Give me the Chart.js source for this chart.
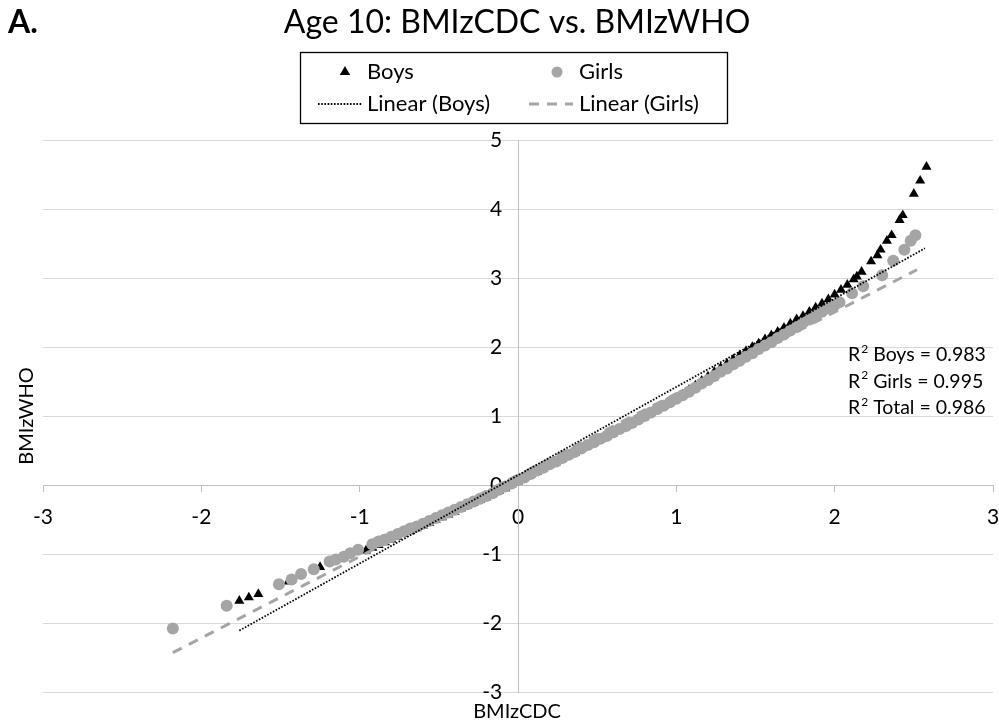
<!DOCTYPE html>
<html>
<head>
<meta charset="utf-8">
<script src="https://cdn.jsdelivr.net/npm/chart.js@4/dist/chart.umd.min.js"></script>
<style>
  html, body { margin: 0; padding: 0; background: #fff; }
  #wrap { width: 999px; height: 725px; position: relative; }
</style>
</head>
<body>
<div id="wrap"><canvas id="myChart"></canvas></div>
<script>
// values (BMIz CDC on x, BMIz WHO on y)
const girlsX = [-2.18, -1.84, -1.51, -1.43, -1.37, -1.29, -1.19, -1.15, -1.10, -1.06, -1.01,
  -0.92, -0.88, -0.84, -0.80, -0.76, -0.72, -0.68, -0.64, -0.60, -0.56, -0.52, -0.48, -0.44,
  -0.40, -0.36, -0.32, -0.28, -0.24, -0.20, -0.16, -0.12, -0.08, -0.04, 0.00, 0.04, 0.08,
  0.12, 0.16, 0.20, 0.24, 0.28, 0.32, 0.36, 0.40, 0.44, 0.48, 0.52, 0.56, 0.60, 0.64, 0.68,
  0.72, 0.76, 0.80, 0.84, 0.88, 0.92, 0.96, 1.00, 1.04, 1.08, 1.12, 1.16, 1.20, 1.24, 1.28,
  1.32, 1.36, 1.40, 1.44, 1.48, 1.52, 1.56, 1.60, 1.64, 1.68, 1.72, 1.76, 1.80, 1.84, 1.88,
  1.92, 1.96, 2.00, 2.03, 2.11, 2.18, 2.30, 2.37, 2.44, 2.48, 2.51];
const girlsY = [-2.08, -1.75, -1.44, -1.37, -1.29, -1.22, -1.11, -1.08, -1.04, -0.99, -0.94,
  -0.86, -0.82, -0.79, -0.75, -0.71, -0.67, -0.63, -0.60, -0.56, -0.52, -0.48, -0.44, -0.40,
  -0.36, -0.32, -0.28, -0.24, -0.20, -0.16, -0.12, -0.07, -0.02, 0.02, 0.07, 0.11, 0.16,
  0.21, 0.25, 0.30, 0.34, 0.39, 0.44, 0.48, 0.53, 0.58, 0.62, 0.67, 0.71, 0.76, 0.81, 0.85,
  0.90, 0.95, 1.00, 1.05, 1.10, 1.15, 1.20, 1.25, 1.30, 1.35, 1.41, 1.47, 1.52, 1.58, 1.64,
  1.69, 1.75, 1.80, 1.86, 1.91, 1.97, 2.02, 2.07, 2.13, 2.18, 2.24, 2.29, 2.35, 2.40, 2.46,
  2.51, 2.56, 2.61, 2.65, 2.78, 2.88, 3.04, 3.25, 3.41, 3.54, 3.62];

const boysX = [-1.76, -1.70, -1.64, -1.45, -1.25, -0.96, -0.92, -0.88, -0.84, -0.80, -0.76,
  -0.72, -0.68, -0.64, -0.60, -0.56, -0.52, -0.48, -0.44, -0.40, -0.36, -0.32, -0.28, -0.24,
  -0.20, -0.16, -0.12, -0.08, -0.04, 0.00, 0.04, 0.08, 0.12, 0.16, 0.20, 0.24, 0.28, 0.32,
  0.36, 0.40, 0.44, 0.48, 0.52, 0.56, 0.60, 0.64, 0.68, 0.72, 0.76, 0.80, 0.84, 0.88, 0.92,
  0.96, 1.00, 1.04, 1.08, 1.12, 1.16, 1.20, 1.24, 1.28, 1.32, 1.36, 1.40, 1.44, 1.48, 1.52,
  1.56, 1.60, 1.64, 1.68, 1.72, 1.76, 1.80, 1.84, 1.88, 1.92, 1.96, 2.00, 2.04, 2.08, 2.12,
  2.14, 2.17, 2.23, 2.27, 2.29, 2.33, 2.36, 2.41, 2.43, 2.50, 2.54, 2.58];
const boysY = [-1.68, -1.63, -1.58, -1.40, -1.19, -0.95, -0.91, -0.87, -0.83, -0.79, -0.75,
  -0.71, -0.67, -0.63, -0.59, -0.55, -0.51, -0.47, -0.43, -0.39, -0.34, -0.30, -0.26, -0.22,
  -0.18, -0.13, -0.09, -0.05, 0.01, 0.05, 0.10, 0.15, 0.19, 0.24, 0.29, 0.33, 0.38, 0.43,
  0.47, 0.52, 0.57, 0.61, 0.66, 0.70, 0.75, 0.80, 0.85, 0.90, 0.95, 1.00, 1.05, 1.10, 1.15,
  1.20, 1.25, 1.31, 1.38, 1.44, 1.51, 1.57, 1.64, 1.70, 1.76, 1.82, 1.88, 1.94, 2.00, 2.05,
  2.11, 2.17, 2.22, 2.28, 2.34, 2.40, 2.45, 2.51, 2.57, 2.63, 2.69, 2.76, 2.83, 2.90, 2.98,
  3.02, 3.09, 3.24, 3.33, 3.41, 3.54, 3.62, 3.84, 3.91, 4.22, 4.41, 4.61];

// trend line end points
const boysTrendX = [-1.76, 2.57];
const boysTrendY = [-2.11, 3.43];
const girlsTrendX = [-2.18, 2.52];
const girlsTrendY = [-2.43, 3.12];

const rSquared = [["Boys", "0.983"], ["Girls", "0.995"], ["Total", "0.986"]];

const toPoints = (xs, ys) => xs.map((x, i) => ({ x: x, y: ys[i] }));

const FONT = "Lato, 'Open Sans', sans-serif";
const GREY = "#a5a5a5";

const data = {
  datasets: [
    {
      label: "Boys",
      data: toPoints(boysX, boysY),
      pointStyle: "triangle",
      pointRadius: 5.8,
      backgroundColor: "#000",
      borderColor: "#000",
      borderWidth: 0,
      order: 4,
    },
    {
      label: "Girls",
      data: toPoints(girlsX, girlsY),
      pointStyle: "circle",
      pointRadius: 6,
      backgroundColor: GREY,
      borderColor: GREY,
      borderWidth: 0,
      order: 2,
    },
    {
      label: "Linear (Boys)",
      data: toPoints(boysTrendX, boysTrendY),
      showLine: true,
      pointRadius: 0,
      borderColor: "#000",
      borderWidth: 1.8,
      borderDash: [1.6, 1.6],
      order: 0,
    },
    {
      label: "Linear (Girls)",
      data: toPoints(girlsTrendX, girlsTrendY),
      showLine: true,
      pointRadius: 0,
      borderColor: GREY,
      borderWidth: 3,
      borderDash: [10, 8],
      order: 3,
    },
  ],
};

// title, legend box, axis titles and R2 notes
const decorations = {
  id: "decorations",
  afterDraw(chart) {
    const ctx = chart.ctx;
    const ds = chart.data.datasets;
    ctx.save();
    ctx.fillStyle = "#000";
    ctx.textBaseline = "middle";

    ctx.font = "bold 32px " + FONT;
    ctx.textAlign = "left";
    ctx.fillText("A.", 8, 23);

    ctx.font = "32px " + FONT;
    ctx.textAlign = "center";
    ctx.fillText("Age 10: BMIzCDC vs. BMIzWHO", 517, 23);

    // legend
    ctx.strokeStyle = "#000";
    ctx.lineWidth = 1.3;
    ctx.strokeRect(300.5, 52.5, 427, 71);
    ctx.font = "22px " + FONT;
    ctx.textAlign = "left";
    const cells = [[345, 72], [557, 72], [340, 104], [551, 104]];
    ds.forEach((d, i) => {
      const [cx, cy] = cells[i];
      if (d.showLine) {
        ctx.save();
        ctx.strokeStyle = d.borderColor;
        ctx.lineWidth = d.borderWidth;
        ctx.setLineDash(d.borderDash);
        ctx.beginPath();
        ctx.moveTo(cx - 22, cy);
        ctx.lineTo(cx + 22, cy);
        ctx.stroke();
        ctx.restore();
      } else {
        ctx.save();
        ctx.fillStyle = d.backgroundColor;
        ctx.beginPath();
        if (d.pointStyle === "triangle") {
          const r = 6;
          ctx.moveTo(cx, cy - r);
          ctx.lineTo(cx + r * 0.866, cy + r / 2);
          ctx.lineTo(cx - r * 0.866, cy + r / 2);
        } else {
          ctx.arc(cx, cy, 5.5, 0, Math.PI * 2);
        }
        ctx.fill();
        ctx.restore();
      }
      ctx.fillText(d.label, i % 2 === 0 ? 367 : 579, cy);
    });

    // axis titles
    ctx.font = "20px " + FONT;
    ctx.textAlign = "center";
    ctx.fillText("BMIzCDC", 517, 712);
    ctx.save();
    ctx.translate(27, 416);
    ctx.rotate(-Math.PI / 2);
    ctx.fillText("BMIzWHO", 0, 0);
    ctx.restore();

    // R2 notes
    ctx.textAlign = "left";
    rSquared.forEach((r, i) => {
      const y = 355 + i * 26.5;
      let x = 848;
      ctx.font = "19.5px " + FONT;
      ctx.fillText("R", x, y);
      x += ctx.measureText("R").width;
      ctx.font = "12px " + FONT;
      ctx.fillText("2", x + 1, y - 6);
      x += ctx.measureText("2").width + 1;
      ctx.font = "19.5px " + FONT;
      ctx.fillText(" " + r[0] + " = " + r[1], x, y);
    });
    ctx.restore();
  },
};

const config = {
  type: "scatter",
  data: data,
  plugins: [decorations],
  options: {
    responsive: false,
    animation: false,
    layout: {
      padding: { left: 43, right: 6, top: 140, bottom: 33 },
    },
    plugins: {
      legend: { display: false },
      title: { display: false },
      tooltip: { enabled: false },
    },
    scales: {
      x: {
        type: "linear",
        position: { y: 0 },
        min: -3,
        max: 3,
        afterFit: (scale) => { scale.paddingLeft = 0; scale.paddingRight = 0; },
        ticks: {
          stepSize: 1,
          padding: 14,
          color: "#000",
          font: { family: FONT, size: 21 },
        },
        grid: {
          drawOnChartArea: false,
          tickLength: 6,
          color: "#bfbfbf",
        },
        border: { color: "#bfbfbf" },
      },
      y: {
        type: "linear",
        position: { x: 0 },
        min: -3,
        max: 5,
        afterFit: (scale) => { scale.paddingTop = 0; scale.paddingBottom = 0; },
        ticks: {
          stepSize: 1,
          color: "#000",
          font: { family: FONT, size: 21 },
          callback: (v) => v + "\u2003",
        },
        grid: {
          tickLength: 7,
          color: "#d9d9d9",
        },
        border: { color: "#bfbfbf" },
      },
    },
  },
};

const canvas = document.getElementById("myChart");
canvas.width = 999;
canvas.height = 725;
const myChart = new Chart(canvas, config);
</script>
</body>
</html>
